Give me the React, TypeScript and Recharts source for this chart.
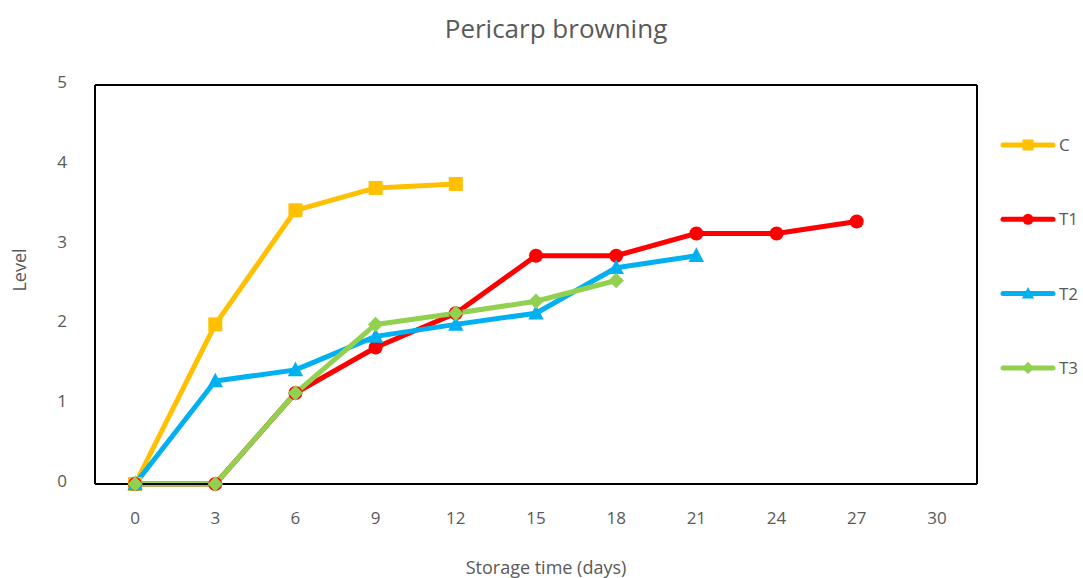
import React from "react";
import { LineChart, Line, XAxis, YAxis } from "recharts";

const DAYS = [0, 3, 6, 9, 12, 15, 18, 21, 24, 27, 30];
const C_VALUES = [0, 2.0, 3.43, 3.71, 3.76];
const T1_VALUES = [0, 0, 1.14, 1.71, 2.14, 2.86, 2.86, 3.14, 3.14, 3.29];
const T2_VALUES = [0, 1.29, 1.43, 1.85, 2.0, 2.14, 2.71, 2.86];
const T3_VALUES = [0, 0, 1.14, 2.0, 2.14, 2.29, 2.55];
const Y_TICKS = [0, 1, 2, 3, 4, 5];

const SERIES = [
  { key: "C", values: C_VALUES, color: "#FFC000", shape: "square" },
  { key: "T1", values: T1_VALUES, color: "#FF0000", shape: "circle" },
  { key: "T2", values: T2_VALUES, color: "#00B0F0", shape: "triangle" },
  { key: "T3", values: T3_VALUES, color: "#92D050", shape: "diamond" },
];

const data = DAYS.map((d, i) => {
  const row: any = { day: d };
  SERIES.forEach((s) => {
    row[s.key] = i < s.values.length ? s.values[i] : null;
  });
  return row;
});

const FONT = "'Open Sans', sans-serif";
const TEXT_COLOR = "#595959";

function Marker({ cx, cy, shape, color, size }: any) {
  if (cx == null || cy == null || isNaN(cx) || isNaN(cy)) return <g />;
  const s = size;
  if (shape === "square") {
    return <rect x={cx - s / 2} y={cy - s / 2} width={s} height={s} fill={color} />;
  }
  if (shape === "circle") {
    return <circle cx={cx} cy={cy} r={s / 2} fill={color} />;
  }
  if (shape === "triangle") {
    return (
      <polygon
        points={`${cx},${cy - s * 0.6} ${cx + s * 0.55},${cy + s * 0.45} ${cx - s * 0.55},${cy + s * 0.45}`}
        fill={color}
      />
    );
  }
  return (
    <polygon
      points={`${cx},${cy - s * 0.55} ${cx + s * 0.55},${cy} ${cx},${cy + s * 0.55} ${cx - s * 0.55},${cy}`}
      fill={color}
    />
  );
}

export default function App() {
  return (
    <div style={{ position: "absolute", left: 0, top: 0, width: 1083, height: 578, background: "#fff" }}>
      <LineChart
        width={1083}
        height={578}
        data={data}
        margin={{ top: 84, right: 105, bottom: 34, left: 35 }}
      >
        <XAxis
          dataKey="day"
          scale="band"
          height={60}
          interval={0}
          tickLine={false}
          tickMargin={22}
          axisLine={{ stroke: "#000", strokeWidth: 2 }}
          tick={{ fill: TEXT_COLOR, fontSize: 17, fontFamily: FONT }}
        />
        <XAxis
          xAxisId="top"
          orientation="top"
          dataKey="day"
          scale="band"
          height={1}
          tick={false}
          tickLine={false}
          axisLine={{ stroke: "#000", strokeWidth: 2 }}
        />
        <YAxis
          domain={[0, 5]}
          ticks={Y_TICKS}
          width={60}
          tickLine={false}
          tickMargin={22}
          axisLine={{ stroke: "#000", strokeWidth: 2 }}
          tick={{ fill: TEXT_COLOR, fontSize: 17, fontFamily: FONT, dy: -3 }}
        />
        <YAxis
          yAxisId="right"
          orientation="right"
          domain={[0, 5]}
          width={1}
          tick={false}
          tickLine={false}
          axisLine={{ stroke: "#000", strokeWidth: 2 }}
        />
        <Line
          dataKey="C"
          xAxisId="top"
          yAxisId="right"
          stroke="none"
          dot={false}
          activeDot={false}
          legendType="none"
          isAnimationActive={false}
        />
        {SERIES.map((s) => (
          <Line
            key={s.key}
            dataKey={s.key}
            stroke={s.color}
            strokeWidth={5}
            strokeLinejoin="round"
            isAnimationActive={false}
            dot={(p: any) => (
              <Marker key={`${s.key}-${p.index}`} cx={p.cx} cy={p.cy} shape={s.shape} color={s.color} size={14} />
            )}
            activeDot={false}
          />
        ))}
      </LineChart>
      <svg
        width={1083}
        height={578}
        style={{ position: "absolute", left: 0, top: 0, pointerEvents: "none" }}
      >
        <text x={556} y={38} textAnchor="middle" fontSize={26} fontFamily={FONT} fill={TEXT_COLOR}>
          Pericarp browning
        </text>
        <text x={546} y={574} textAnchor="middle" fontSize={18} fontFamily={FONT} fill={TEXT_COLOR}>
          Storage time (days)
        </text>
        <text
          x={0}
          y={0}
          transform="translate(26,270) rotate(-90)"
          textAnchor="middle"
          fontSize={18}
          fontFamily={FONT}
          fill={TEXT_COLOR}
        >
          Level
        </text>
        {SERIES.map((s, i) => {
          const y = 145 + i * 74.3;
          return (
            <g key={s.key}>
              <line x1={1003} x2={1053} y1={y} y2={y} stroke={s.color} strokeWidth={5} strokeLinecap="round" />
              <Marker cx={1028} cy={y} shape={s.shape} color={s.color} size={11} />
              <text x={1059} y={y + 6} fontSize={17} fontFamily={FONT} fill={TEXT_COLOR}>
                {s.key}
              </text>
            </g>
          );
        })}
      </svg>
    </div>
  );
}
